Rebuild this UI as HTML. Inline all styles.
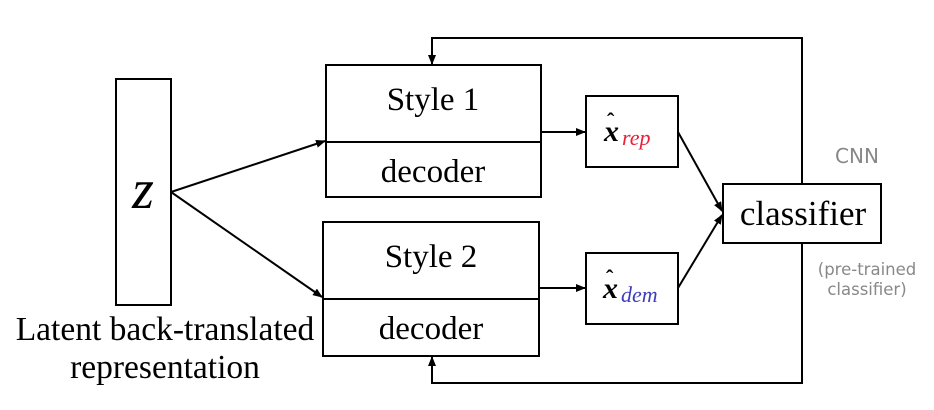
<!DOCTYPE html>
<html><head><style>
body{margin:0;background:#fff;}
svg{display:block;}
.s{font-family:"Liberation Serif",serif;fill:#000;}
.g{font-family:"DejaVu Sans","Liberation Sans",sans-serif;fill:#888;}
</style></head><body>
<svg width="934" height="410" viewBox="0 0 934 410">
<defs><marker id="a" markerWidth="10" markerHeight="8" refX="9" refY="4" orient="auto" markerUnits="userSpaceOnUse"><path d="M0,0 L10,4 L0,8 z" fill="#000"/></marker></defs>
<g stroke="#000" stroke-width="2" fill="none">
<rect x="116" y="79" width="55" height="226"/>
<rect x="326" y="65" width="215" height="132"/>
<line x1="326" y1="142" x2="541" y2="142"/>
<rect x="323" y="222" width="216" height="134"/>
<line x1="323" y1="299" x2="539" y2="299"/>
<rect x="586" y="96" width="92" height="71"/>
<rect x="586" y="253" width="92" height="71"/>
<rect x="723" y="184" width="158" height="59"/>
<polyline points="802,184 802,38 432,38 432,64" marker-end="url(#a)"/>
<polyline points="802,243 802,383 432,383 432,357" marker-end="url(#a)"/>
<line x1="171" y1="192" x2="325" y2="141" marker-end="url(#a)"/>
<line x1="171" y1="192" x2="322" y2="297" marker-end="url(#a)"/>
<line x1="541" y1="132" x2="585" y2="132" marker-end="url(#a)"/>
<line x1="539" y1="288" x2="585" y2="288" marker-end="url(#a)"/>
<line x1="678" y1="132" x2="722" y2="211" marker-end="url(#a)"/>
<line x1="678" y1="288" x2="722" y2="215" marker-end="url(#a)"/>
</g>
<text class="s" x="143" y="208" font-size="56" font-style="italic" text-anchor="middle">z</text>
<text class="s" x="433" y="110" font-size="33" text-anchor="middle">Style 1</text>
<text class="s" x="433" y="182" font-size="33" text-anchor="middle">decoder</text>
<text class="s" x="431" y="267" font-size="33" text-anchor="middle">Style 2</text>
<text class="s" x="431" y="339" font-size="33" text-anchor="middle">decoder</text>
<text class="s" x="604" y="141" font-size="30" font-weight="bold" font-style="italic">x</text>
<text class="s" x="607" y="128" font-size="22" font-weight="bold">ˆ</text>
<text class="s" x="622" y="145" font-size="22" font-style="italic" style="fill:#e8203a">rep</text>
<text class="s" x="603" y="298" font-size="30" font-weight="bold" font-style="italic">x</text>
<text class="s" x="606" y="285" font-size="22" font-weight="bold">ˆ</text>
<text class="s" x="621" y="302" font-size="22" font-style="italic" style="fill:#3d3dbd">dem</text>
<text class="s" x="803" y="225" font-size="35" text-anchor="middle">classifier</text>
<text class="g" x="857" y="163" font-size="20" text-anchor="middle">CNN</text>
<text class="g" x="867" y="275" font-size="16.5" text-anchor="middle">(pre-trained</text>
<text class="g" x="867" y="295" font-size="16.5" text-anchor="middle">classifier)</text>
<text class="s" x="165" y="340" font-size="33.5" text-anchor="middle">Latent back-translated</text>
<text class="s" x="165" y="378" font-size="33.5" text-anchor="middle">representation</text>
</svg>
</body></html>
